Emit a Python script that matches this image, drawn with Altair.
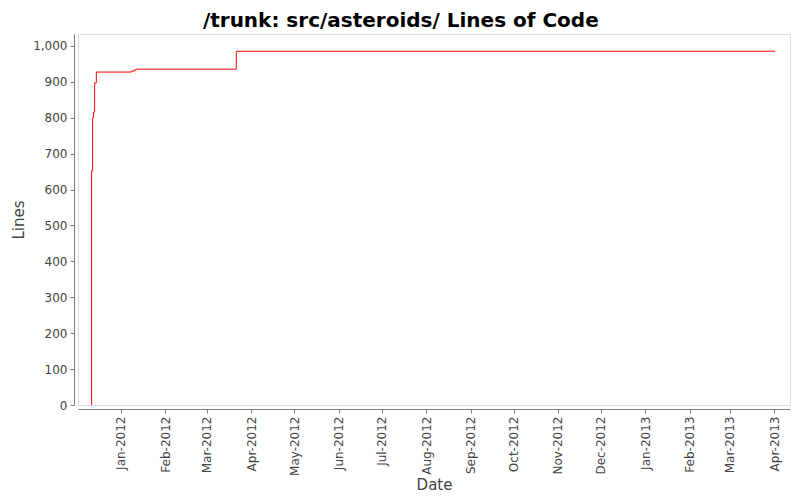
import altair as alt
import pandas as pd

# Commit timeline (step data): dates and lines-of-code values
dates = [
    "2011-12-11T12:00:00",
    "2011-12-11T12:00:00",
    "2011-12-12T05:00:00",
    "2011-12-12T22:00:00",
    "2011-12-13T15:00:00",
    "2011-12-14T19:00:00",
    "2012-01-08T05:00:00",
    "2012-01-10T15:00:00",
    "2012-01-11T08:00:00",
    "2012-03-21T12:00:00",
    "2013-04-01T14:00:00",
]
lines = [0, 652, 800, 816, 897, 927, 930, 933, 935, 985, 985]

y_ticks = [0, 100, 200, 300, 400, 500, 600, 700, 800, 900, 1000]

df = pd.DataFrame({"date": dates, "lines": lines})

FONT = "DejaVu Sans"
GRAY = "#808080"
LABEL = "#444444"

chart = (
    alt.Chart(df)
    .mark_line(interpolate="step-after", color="#ff0000", strokeWidth=1)
    .encode(
        x=alt.X(
            "date:T",
            title="Date",
            scale=alt.Scale(
                domain=[
                    alt.DateTime(year=2011, month=12, date=2),
                    alt.DateTime(year=2013, month=4, date=12),
                ],
                nice=False,
            ),
            axis=alt.Axis(
                format="%b-%Y",
                tickCount={"interval": "month", "step": 1},
                labelAngle=270,
                labelFontSize=12,
                labelColor=LABEL,
                labelFont=FONT,
                labelPadding=3,
                tickSize=4,
                tickColor=GRAY,
                domainColor=GRAY,
                offset=4,
                grid=False,
                titleFont=FONT,
                titleFontSize=15,
                titleFontWeight="normal",
                titleColor=LABEL,
                titlePadding=2,
                labelOverlap=False,
            ),
        ),
        y=alt.Y(
            "lines:Q",
            title="Lines",
            scale=alt.Scale(domain=[0, 1033], nice=False, zero=True),
            axis=alt.Axis(
                values=y_ticks,
                format=",d",
                labelFontSize=12,
                labelColor=LABEL,
                labelFont=FONT,
                labelPadding=3,
                tickSize=4,
                tickColor=GRAY,
                domainColor=GRAY,
                offset=4,
                grid=False,
                titleFont=FONT,
                titleFontSize=15,
                titleFontWeight="normal",
                titleColor=LABEL,
                titlePadding=6,
            ),
        ),
    )
    .properties(
        width=712,
        height=371,
        title=alt.TitleParams(
            "/trunk: src/asteroids/ Lines of Code",
            font=FONT,
            fontSize=20,
            fontWeight="bold",
            color="#000000",
            anchor="middle",
            frame="bounds",
            offset=3,
        ),
        autosize=alt.AutoSizeParams(type="none"),
        padding={"left": 70, "top": 26, "right": 2, "bottom": 90},
    )
    .configure_view(stroke=GRAY, strokeWidth=1)
    .configure(background="white")
)

chart.save("out.html", embed_options={"renderer": "svg", "actions": False})
